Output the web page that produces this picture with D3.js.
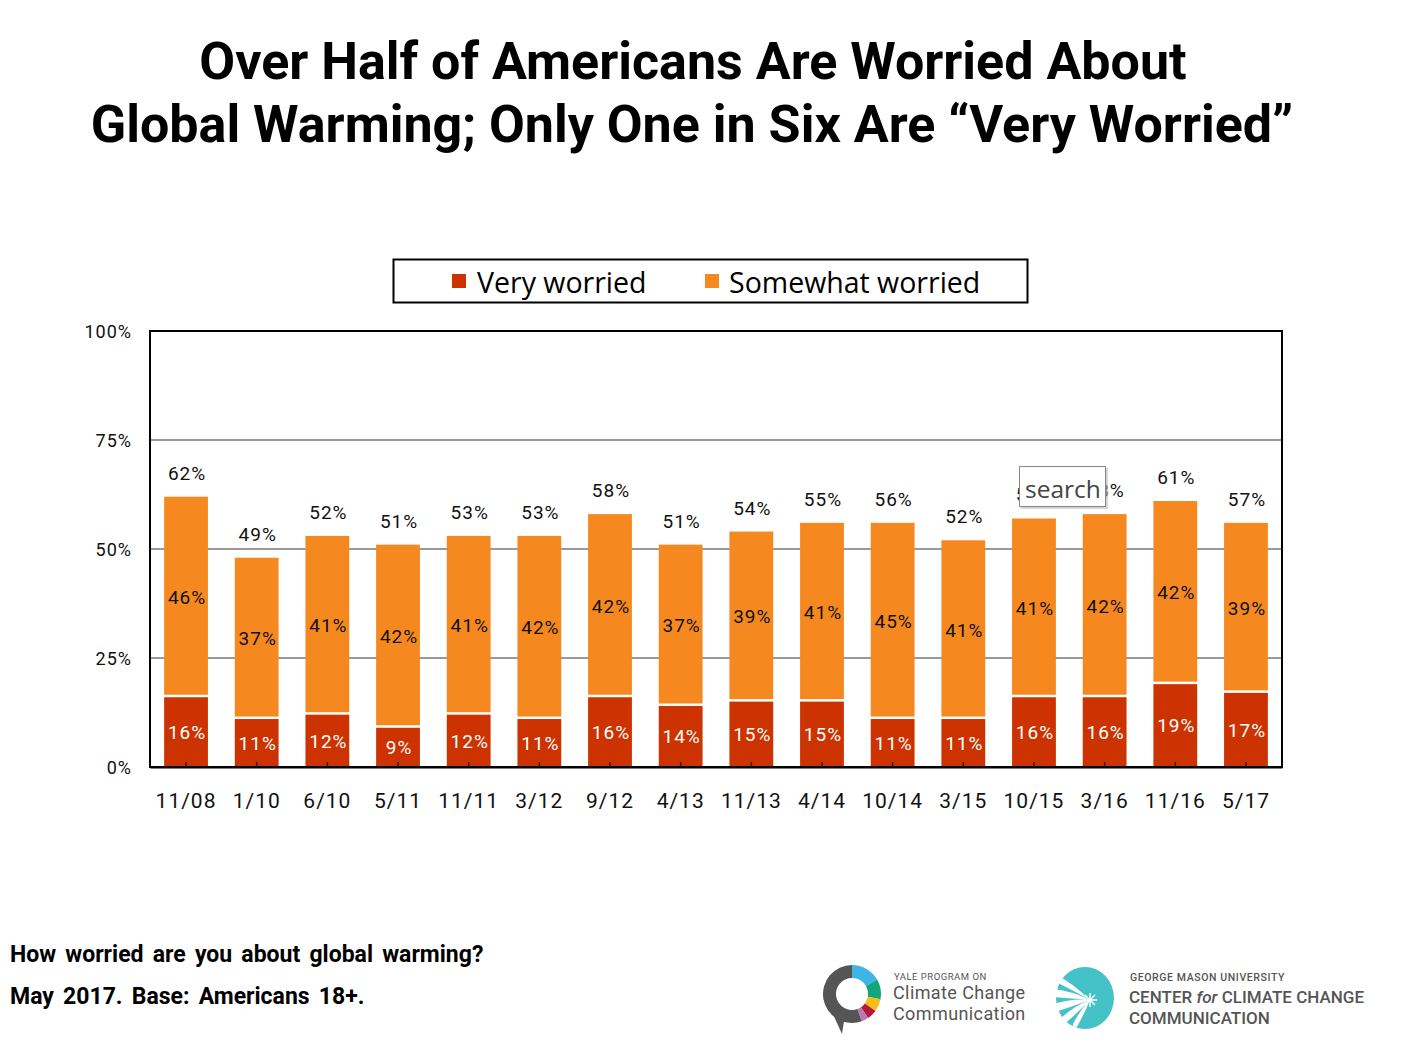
<!DOCTYPE html>
<html><head><meta charset="utf-8">
<script src="https://cdn.jsdelivr.net/npm/d3@7/dist/d3.min.js"></script>
<style>body{margin:0;background:#fff}svg{display:block}</style>
</head><body><svg id="c" width="1406" height="1051"></svg>
<script>
const categories = ["11/08","1/10","6/10","5/11","11/11","3/12","9/12","4/13","11/13","4/14","10/14","3/15","10/15","3/16","11/16","5/17"];
const veryWorried = [16,11,12,9,12,11,16,14,15,15,11,11,16,16,19,17];
const somewhatWorried = [46,37,41,42,41,42,42,37,39,41,45,41,41,42,42,39];
const totalLabels = [62,49,52,51,53,53,58,51,54,55,56,52,57,58,61,57];
const yTicks = [0,25,50,75,100];
const seriesNames = ["Very worried","Somewhat worried"];
const colors = ["#CC3300","#F5891F"];

const svg = d3.select("#c");
const L=150,R=1282,T=331,B=767;
const x = d3.scaleBand().domain(categories).range([L,R]).paddingInner(0.38).paddingOuter(0.2);
const y = d3.scaleLinear().domain([0,100]).range([B,T]);

// title
const title = svg.append("g").attr("font-family","Roboto").attr("font-weight","700").attr("font-size",52).attr("text-anchor","middle").attr("fill","#000");
title.append("text").attr("x",693).attr("y",79).text("Over Half of Americans Are Worried About");
title.append("text").attr("x",692).attr("y",142).text("Global Warming; Only One in Six Are \u201CVery Worried\u201D");

// legend
svg.append("rect").attr("x",393.5).attr("y",259.5).attr("width",634).attr("height",43).attr("fill","#fff").attr("stroke","#000").attr("stroke-width",2);
const lg = svg.append("g").attr("font-family","Open Sans").attr("font-size",28.5).attr("fill","#000");
[[452,477],[705,729]].forEach((p,i)=>{
  lg.append("rect").attr("x",p[0]).attr("y",274).attr("width",14).attr("height",14).attr("fill",colors[i]);
  lg.append("text").attr("x",p[1]).attr("y",293).text(seriesNames[i]);
});

// gridlines
svg.append("g").selectAll("line").data([25,50,75]).join("line")
  .attr("x1",L).attr("x2",R).attr("y1",d=>y(d)).attr("y2",d=>y(d))
  .attr("stroke","#999").attr("stroke-width",2);

// y axis labels
const ya = svg.append("g").attr("transform",`translate(${L},0)`)
  .call(d3.axisLeft(y).tickValues(yTicks).tickFormat(d=>d+"%").tickSize(0).tickPadding(18));
ya.select(".domain").remove();
ya.selectAll("text").attr("font-family","Roboto").attr("font-size",18).attr("fill","#111").attr("letter-spacing",1).attr("dy","0.35em");

// bars
const gap = 2.5;
const bars = svg.append("g");
bars.selectAll(".v").data(categories).join("rect")
  .attr("x",d=>x(d)).attr("width",x.bandwidth())
  .attr("y",(d,i)=>y(veryWorried[i])).attr("height",(d,i)=>y(0)-y(veryWorried[i]))
  .attr("fill",colors[0]);
bars.selectAll(".s").data(categories).join("rect")
  .attr("x",d=>x(d)).attr("width",x.bandwidth())
  .attr("y",(d,i)=>y(veryWorried[i]+somewhatWorried[i]))
  .attr("height",(d,i)=>y(veryWorried[i])-y(veryWorried[i]+somewhatWorried[i])-gap)
  .attr("fill",colors[1]);

const lab = svg.append("g").attr("font-family","Roboto").attr("font-size",19).attr("text-anchor","middle").attr("letter-spacing",1);
categories.forEach((c,i)=>{
  const cx = x(c)+x.bandwidth()/2+1;
  lab.append("text").attr("x",cx).attr("y",(y(0)+y(veryWorried[i]))/2).attr("dy","0.36em").attr("fill","#fff").text(veryWorried[i]+"%");
  lab.append("text").attr("x",cx).attr("y",(y(veryWorried[i])+y(veryWorried[i]+somewhatWorried[i]))/2).attr("dy","0.36em").attr("fill","#111").text(somewhatWorried[i]+"%");
  lab.append("text").attr("x",cx).attr("y",y(veryWorried[i]+somewhatWorried[i])-17).attr("fill","#111").text(totalLabels[i]+"%");
});

// frame
svg.append("rect").attr("x",L).attr("y",T).attr("width",R-L).attr("height",B-T).attr("fill","none").attr("stroke","#000").attr("stroke-width",2);

// x axis
const xa = svg.append("g").attr("transform",`translate(0,${B})`)
  .call(d3.axisBottom(x).tickSizeInner(-5).tickSizeOuter(0).tickPadding(26));
xa.select(".domain").attr("stroke","#000").attr("stroke-width",2);
xa.selectAll(".tick line").attr("stroke","#222").attr("stroke-width",1.5);
xa.selectAll("text").attr("font-family","Roboto").attr("font-size",21).attr("fill","#111").attr("letter-spacing",1);

// search overlay
const sg = svg.append("g");
sg.append("rect").attr("x",1021).attr("y",468).attr("width",87).attr("height",41).attr("fill","#bbb").attr("opacity",0.6);
sg.append("rect").attr("x",1019.5).attr("y",466.5).attr("width",86).attr("height",40).attr("fill","#fff").attr("stroke","#888").attr("stroke-width",1);
sg.append("text").attr("x",1025).attr("y",498).attr("font-family","Open Sans").attr("font-size",24.5).attr("fill","#444").text("search");

// footer text
const ft = svg.append("g").attr("font-family","Roboto").attr("font-weight","700").attr("font-size",23).attr("word-spacing",3.5).attr("fill","#000");
ft.append("text").attr("x",10).attr("y",962).text("How worried are you about global warming?");
ft.append("text").attr("x",10).attr("y",1004).text("May 2017. Base: Americans 18+.");

// Yale logo
const yl = svg.append("g").attr("transform","translate(852,994)");
const arc = d3.arc().innerRadius(16).outerRadius(29);
const segs = [[0,1.05,"#3FB5E5"],[1.05,1.75,"#12A57E"],[1.75,2.2,"#F6BE16"],[2.2,2.55,"#B5193A"],[2.55,2.8,"#B57BB4"],[2.8,6.2832,"#555"]];
segs.forEach(s=>yl.append("path").attr("d",arc({startAngle:s[0],endAngle:s[1]})).attr("fill",s[2]));
yl.append("path").attr("d","M-20,18 L-8,27 L-10,40 Z").attr("fill","#555");
const yt = svg.append("g").attr("font-family","Roboto").attr("fill","#555");
yt.append("text").attr("x",894).attr("y",980).attr("font-size",9.5).attr("letter-spacing",0.5).text("YALE PROGRAM ON");
yt.append("text").attr("x",893).attr("y",999).attr("font-size",18).attr("letter-spacing",0.4).text("Climate Change");
yt.append("text").attr("x",893).attr("y",1020).attr("font-size",18).attr("letter-spacing",0.4).text("Communication");

// GMU logo
const gm = svg.append("g");
gm.append("ellipse").attr("cx",1085).attr("cy",998).attr("rx",29).attr("ry",31).attr("fill","#45C1C8");
const sx=1090, sy=1000;
[[-30,-20],[-33,-5],[-31,10],[-24,24],[-12,30]].forEach((p,i)=>{
  const ex=1085+p[0], ey=998+p[1];
  gm.append("path").attr("d",`M${sx},${sy} Q${(sx+ex)/2},${(sy+ey)/2-6} ${ex},${ey-4} L${ex+1},${ey+4} Q${(sx+ex)/2+2},${(sy+ey)/2+2} ${sx},${sy} Z`).attr("fill","#fff");
});
gm.append("path").attr("d",`M${sx-7},${sy} L${sx+7},${sy} M${sx},${sy-7} L${sx},${sy+7} M${sx-5},${sy-5} L${sx+5},${sy+5} M${sx-5},${sy+5} L${sx+5},${sy-5}`).attr("stroke","#fff").attr("stroke-width",1.5);
const gt = svg.append("g").attr("font-family","Roboto").attr("fill","#555").attr("font-weight","500");
gt.append("text").attr("x",1130).attr("y",981).attr("font-size",10.5).attr("letter-spacing",0.6).text("GEORGE MASON UNIVERSITY");
const t2 = gt.append("text").attr("x",1129).attr("y",1003).attr("font-size",17);
t2.append("tspan").text("CENTER ");
t2.append("tspan").attr("font-style","italic").text("for");
t2.append("tspan").text(" CLIMATE CHANGE");
gt.append("text").attr("x",1129).attr("y",1024).attr("font-size",17).text("COMMUNICATION");
</script></body></html>
